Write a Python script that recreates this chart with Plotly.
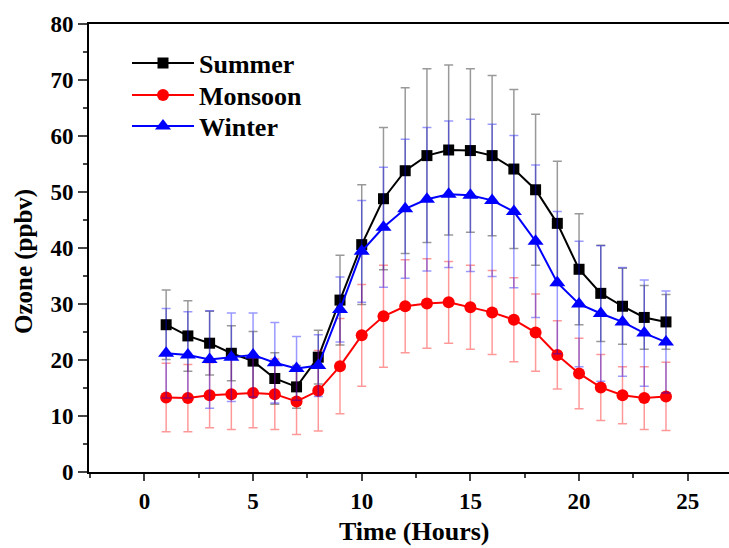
import plotly.graph_objects as go

hours = list(range(1, 25))
summer = [26.3, 24.3, 23.0, 21.2, 19.8, 16.7, 15.2, 20.5, 30.7, 40.6, 48.8, 53.8,
          56.5, 57.5, 57.4, 56.5, 54.1, 50.4, 44.4, 36.2, 31.9, 29.6, 27.6, 26.8]
summer_err = [6.2, 6.3, 5.7, 4.9, 5.3, 4.6, 3.8, 4.8, 8.0, 10.7, 12.7, 14.8,
              15.5, 15.2, 14.6, 14.3, 14.2, 13.5, 11.1, 9.9, 8.6, 6.8, 5.7, 4.9]
monsoon = [13.3, 13.2, 13.7, 13.9, 14.1, 13.9, 12.6, 14.5, 18.9, 24.4, 27.8, 29.6,
           30.1, 30.3, 29.4, 28.5, 27.2, 24.9, 20.9, 17.6, 15.1, 13.7, 13.2, 13.5]
monsoon_err = [6.1, 6.0, 5.8, 6.3, 6.2, 6.3, 5.9, 7.2, 8.5, 9.1, 9.1, 8.3,
               8.0, 7.3, 7.5, 7.5, 7.5, 6.9, 6.1, 6.3, 5.9, 5.1, 5.6, 6.1]
winter = [21.2, 20.9, 20.1, 20.5, 20.9, 19.5, 18.5, 19.0, 29.0, 39.4, 43.7, 47.0,
          48.7, 49.6, 49.4, 48.5, 46.5, 41.2, 33.8, 30.0, 28.3, 26.8, 24.8, 23.2]
winter_err = [8.0, 7.7, 8.7, 7.9, 7.5, 7.2, 5.7, 5.5, 5.8, 9.1, 10.7, 12.4,
              12.8, 13.1, 13.6, 13.6, 13.6, 13.6, 12.7, 11.2, 12.1, 9.7, 9.5, 9.1]

x_ticks = [0, 5, 10, 15, 20, 25]
y_ticks = [0, 10, 20, 30, 40, 50, 60, 70, 80]

FONT = "Liberation Serif"
L, T, B = 89, 24, 76
W, H = 729, 548
PW = W - L
PH = H - T - B


def py(pix):
    return (H - B - pix) / PH


def px(pix):
    return (pix - L) / PW


fig = go.Figure()
series = [
    ("Summer", summer, summer_err, "black", "square", "rgba(0,0,0,0.4)", 11, "legend", 63),
    ("Monsoon", monsoon, monsoon_err, "red", "circle", "rgba(255,0,0,0.4)", 12, "legend2", 95),
    ("Winter", winter, winter_err, "blue", "triangle-up", "rgba(0,0,255,0.4)", 14, "legend3", 126),
]
legends = {}
for name, vals, err, col, sym, ecol, msize, lg, ly in series:
    fig.add_trace(go.Scatter(
        x=hours, y=vals, name="<b>" + name + "</b>", mode="lines+markers",
        line=dict(color=col, width=2),
        marker=dict(symbol=sym, size=msize, color=col),
        error_y=dict(type="data", array=err, visible=True, color=ecol,
                     thickness=1.5, width=4.5),
        legend=lg,
    ))
    legends[lg] = dict(x=px(127), y=py(ly), xanchor="left", yanchor="middle",
                       bgcolor="rgba(0,0,0,0)",
                       font=dict(family=FONT, size=26, color="black"),
                       itemwidth=62)

fig.update_layout(
    width=W, height=H,
    margin=dict(l=L, r=0, t=T, b=B, autoexpand=False),
    paper_bgcolor="white", plot_bgcolor="white",
    font=dict(family=FONT, color="black"),
    showlegend=True,
    annotations=[
        dict(text="<b>Time (Hours)</b>", xref="paper", yref="paper",
             x=px(414), y=py(531), xanchor="center", yanchor="middle",
             showarrow=False, font=dict(family=FONT, size=26, color="black")),
        dict(text="<b>Ozone (ppbv)</b>", xref="paper", yref="paper",
             x=px(24), y=py(262), xanchor="center", yanchor="middle",
             textangle=-90, showarrow=False,
             font=dict(family=FONT, size=25, color="black")),
    ],
    **legends,
)
fig.update_xaxes(
    range=[-2.55, 26.9], tickvals=x_ticks, ticktext=["<b>%d</b>" % v for v in x_ticks],
    ticks="outside", ticklen=7, tickwidth=1.5, automargin=False,
    minor=dict(tickvals=[-2.5, 2.5, 7.5, 12.5, 17.5, 22.5], ticks="outside",
               ticklen=4, tickwidth=1.5),
    showline=True, linecolor="black", linewidth=2, mirror=True,
    showgrid=False, zeroline=False,
    tickfont=dict(family=FONT, size=23, color="black"),
)
fig.update_yaxes(
    range=[0, 80], tickvals=y_ticks, ticktext=["<b>%d</b>" % v for v in y_ticks],
    ticks="outside", ticklen=9, tickwidth=1.5, automargin=False,
    minor=dict(dtick=5, ticks="outside", ticklen=4, tickwidth=1.5),
    showline=True, linecolor="black", linewidth=2,
    showgrid=False, zeroline=False,
    tickfont=dict(family=FONT, size=23, color="black"),
)

fig.write_html("out.html", config={"displayModeBar": False},
               post_script="document.body.style.margin='0';document.body.style.overflow='hidden';")
